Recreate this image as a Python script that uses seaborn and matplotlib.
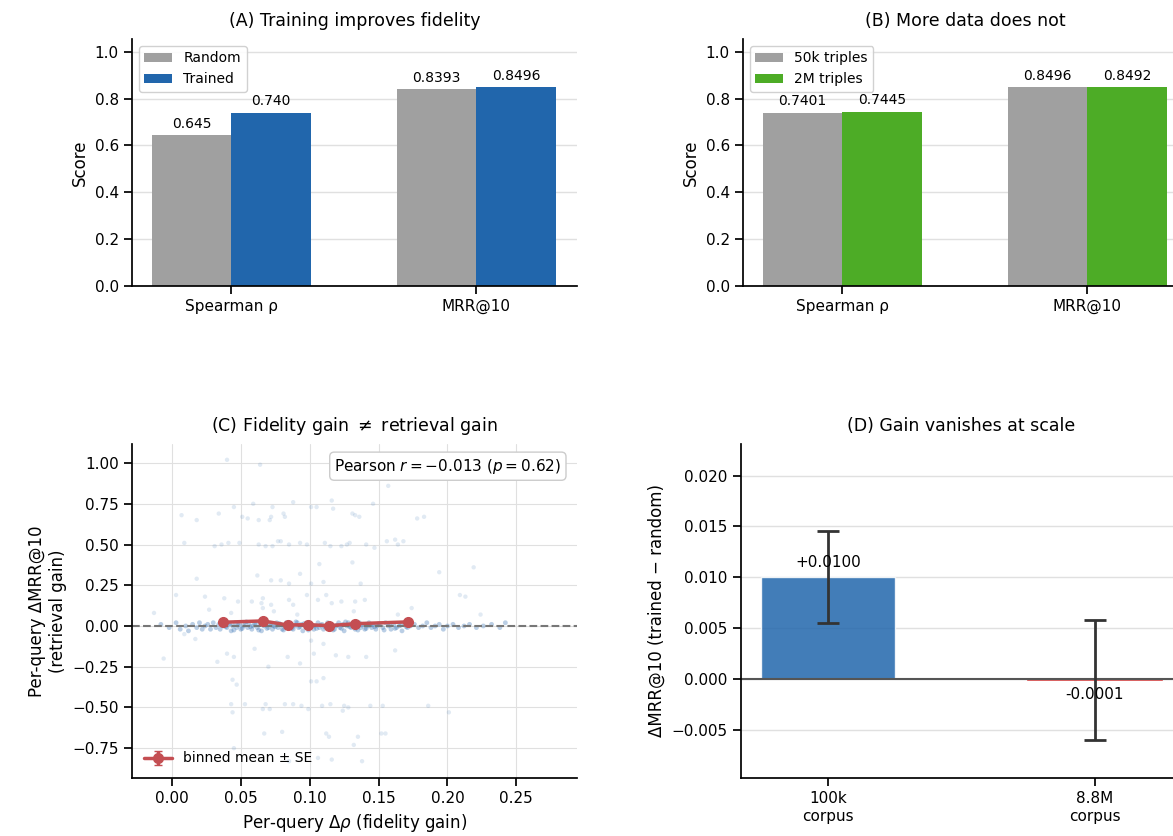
import matplotlib

matplotlib.use("Agg")

import matplotlib.pyplot as plt
import pandas as pd
import seaborn as sns
from matplotlib.ticker import MultipleLocator


# panel A / B : bar scores
METRICS = ["Spearman ρ", "MRR@10"]
RANDOM_SCORES = [0.645, 0.8393]
TRAINED_SCORES = [0.740, 0.8496]
LABELS_RANDOM = ["0.645", "0.8393"]
LABELS_TRAINED = ["0.740", "0.8496"]

SMALL_DATA_SCORES = [0.7401, 0.8496]
LARGE_DATA_SCORES = [0.7445, 0.8492]
LABELS_SMALL = ["0.7401", "0.8496"]
LABELS_LARGE = ["0.7445", "0.8492"]

# panel C : per-query scatter
SPREAD_X = [
    0.040, 0.064, 0.157,
    0.007, 0.018, 0.034, 0.045, 0.051, 0.055, 0.059, 0.063, 0.071, 0.072,
    0.073, 0.081, 0.082, 0.088, 0.101, 0.105, 0.116, 0.117, 0.131, 0.133,
    0.136, 0.146, 0.178, 0.183,
    0.009, 0.031, 0.036, 0.041, 0.049, 0.063, 0.068, 0.073, 0.077, 0.079,
    0.085, 0.093, 0.098, 0.111, 0.115, 0.123, 0.127, 0.129, 0.141, 0.147,
    0.156, 0.162, 0.164, 0.168,
    0.219, 0.194, 0.131, 0.107, 0.018, 0.062, 0.072, 0.079, 0.085, 0.101,
    0.110, 0.137, 0.093, 0.003, 0.024, 0.038, 0.048, 0.058, 0.065, 0.066,
    0.066, 0.072, 0.085, 0.088, 0.098, 0.106, 0.112, 0.116, 0.123, 0.133,
    0.140, 0.209, 0.213, 0.224, 0.174, 0.164, -0.013, 0.027, 0.043, 0.074,
    0.091, 0.132,
    -0.006, 0.009, 0.017, 0.033, 0.040, 0.045, 0.060, 0.070, 0.084, 0.093,
    0.101, 0.103, 0.110, 0.119, 0.128, 0.141, 0.162, 0.044, 0.047, 0.101,
    0.105, 0.110,
    0.043, 0.053, 0.066, 0.068, 0.071, 0.082, 0.088, 0.094, 0.099, 0.109,
    0.115, 0.124, 0.125, 0.128, 0.144, 0.153, 0.186, 0.201, 0.044,
    0.067, 0.080, 0.112, 0.114, 0.132, 0.135, 0.152, 0.155, 0.045, 0.085,
    0.116, 0.138, 0.106,
]
SPREAD_Y = [
    1.02, 0.99, 0.86,
    0.68, 0.65, 0.69, 0.73, 0.67, 0.66, 0.75, 0.65, 0.65, 0.67,
    0.73, 0.69, 0.67, 0.76, 0.73, 0.73, 0.77, 0.72, 0.69, 0.68,
    0.67, 0.75, 0.66, 0.67,
    0.51, 0.49, 0.50, 0.51, 0.51, 0.50, 0.49, 0.49, 0.52, 0.52,
    0.50, 0.51, 0.50, 0.51, 0.49, 0.49, 0.50, 0.51, 0.50, 0.48,
    0.52, 0.53, 0.50, 0.52,
    0.36, 0.33, 0.39, 0.38, 0.29, 0.31, 0.28, 0.28, 0.26, 0.26,
    0.27, 0.26, 0.32, 0.19, 0.18, 0.17, 0.15, 0.15, 0.14, 0.17,
    0.11, 0.13, 0.16, 0.13, 0.19, 0.16, 0.19, 0.14, 0.15, 0.15,
    0.16, 0.19, 0.18, 0.07, 0.11, 0.07, 0.08, 0.10, 0.08, 0.09,
    0.07, 0.09,
    -0.20, -0.05, -0.08, -0.22, -0.17, -0.19, -0.14, -0.25, -0.19, -0.23,
    -0.09, -0.17, -0.11, -0.18, -0.19, -0.19, -0.15, -0.33, -0.36, -0.34,
    -0.34, -0.32,
    -0.48, -0.48, -0.51, -0.48, -0.51, -0.48, -0.48, -0.49, -0.51, -0.49,
    -0.48, -0.52, -0.49, -0.50, -0.49, -0.49, -0.49, -0.53, -0.53,
    -0.66, -0.65, -0.66, -0.68, -0.73, -0.68, -0.66, -0.66, -0.75, -0.83,
    -0.82, -0.83, -0.81,
]
BAND_X = [
    -0.008, -0.002, 0.003, 0.006, 0.010, 0.012, 0.015, 0.018, 0.020, 0.022,
    0.024, 0.026, 0.028, 0.030, 0.032, 0.034, 0.035, 0.037, 0.038, 0.040,
    0.041, 0.043, 0.044, 0.046, 0.047, 0.049, 0.050, 0.052, 0.053, 0.055,
    0.056, 0.058, 0.059, 0.061, 0.062, 0.064, 0.065, 0.067, 0.068, 0.070,
    0.071, 0.073, 0.074, 0.076, 0.077, 0.079, 0.080, 0.082, 0.083, 0.085,
    0.086, 0.088, 0.089, 0.091, 0.092, 0.094, 0.095, 0.097, 0.098, 0.100,
    0.101, 0.103, 0.104, 0.106, 0.107, 0.109, 0.110, 0.112, 0.113, 0.115,
    0.116, 0.118, 0.119, 0.121, 0.122, 0.124, 0.125, 0.127, 0.128, 0.130,
    0.131, 0.133, 0.134, 0.136, 0.137, 0.139, 0.140, 0.142, 0.143, 0.145,
    0.146, 0.148, 0.149, 0.151, 0.153, 0.155, 0.157, 0.159, 0.161, 0.163,
    0.165, 0.167, 0.169, 0.171, 0.173, 0.176, 0.179, 0.182, 0.185, 0.188,
    0.191, 0.194, 0.197, 0.200, 0.204, 0.208, 0.212, 0.216, 0.221, 0.226,
    0.232, 0.238, 0.242,
    0.039, 0.042, 0.045, 0.048, 0.051, 0.054, 0.057, 0.060, 0.063, 0.066,
    0.069, 0.072, 0.075, 0.078, 0.081, 0.084, 0.087, 0.090, 0.093, 0.096,
    0.099, 0.102, 0.105, 0.108, 0.111, 0.114, 0.117, 0.120, 0.123, 0.126,
    0.129, 0.132, 0.135, 0.138, 0.141, 0.144, 0.147, 0.150, 0.154, 0.158,
    0.162, 0.166, 0.170,
]
BAND_Y = [
    0.01, -0.01, 0.02, -0.02, 0.00, -0.03, 0.01, -0.01, 0.02, -0.02,
    0.00, 0.01, -0.02, 0.02, -0.01, 0.01, -0.02, 0.00, 0.02, -0.01,
    0.01, -0.03, 0.00, 0.02, -0.01, 0.01, -0.02, 0.00, 0.02, -0.01,
    0.01, -0.02, 0.00, 0.02, -0.01, 0.01, -0.03, 0.00, 0.02, -0.01,
    0.01, -0.02, 0.00, 0.02, -0.01, 0.01, -0.02, 0.00, 0.02, -0.01,
    0.01, -0.02, 0.00, 0.02, -0.01, 0.01, -0.03, 0.00, 0.02, -0.01,
    0.01, -0.02, 0.00, 0.02, -0.01, 0.01, -0.02, 0.00, 0.02, -0.01,
    0.01, -0.02, 0.00, 0.02, -0.01, 0.01, -0.03, 0.00, 0.02, -0.01,
    0.01, -0.02, 0.00, 0.02, -0.01, 0.01, -0.02, 0.00, 0.02, -0.01,
    0.01, -0.02, 0.00, 0.01, -0.01, 0.02, 0.00, -0.02, 0.01, -0.01,
    0.00, -0.03, 0.01, -0.01, 0.00, 0.01, -0.01, 0.00, 0.02, -0.01,
    0.00, 0.01, -0.02, 0.00, 0.01, -0.01, 0.00, 0.01, -0.01, 0.00,
    0.01, -0.01, 0.02,
    -0.005, 0.015, -0.025, 0.005, -0.015, 0.025, -0.005, 0.015, -0.025, 0.005,
    -0.015, 0.005, -0.005, 0.015, -0.025, 0.005, -0.015, 0.025, -0.005, 0.015,
    -0.025, 0.005, -0.015, 0.005, -0.005, 0.015, -0.025, 0.005, -0.015, 0.025,
    -0.005, 0.015, -0.025, 0.005, -0.015, 0.005, -0.005, 0.015, -0.025, 0.005,
    -0.015, 0.005, -0.005,
]
BIN_X = [0.037, 0.066, 0.084, 0.099, 0.114, 0.133, 0.171]
BIN_MEAN = [0.023, 0.031, 0.006, 0.008, 0.002, 0.014, 0.025]
BIN_SE = [0.010, 0.009, 0.007, 0.006, 0.007, 0.008, 0.011]
PEARSON_R = -0.013
PEARSON_P = 0.62

# panel D : gain per corpus size
CORPORA = ["100k\ncorpus", "8.8M\ncorpus"]
GAIN = [0.0100, -0.0001]
GAIN_ERR = [0.0045, 0.0059]

GRAY = "#a0a0a0"
BLUE = "#2166ac"
GREEN = "#4dac26"
RED = "#c44e52"
GRID = "#e0e0e0"


def plot_score_bars(ax, title, names, first, second, labels, colors):
    df = pd.DataFrame({
        "metric": METRICS * 2,
        "score": first + second,
        "model": [names[0]] * 2 + [names[1]] * 2,
    })
    sns.barplot(
        data=df, x="metric", y="score", hue="model",
        palette=colors, width=0.65, saturation=1, linewidth=0, ax=ax,
    )
    for cont, lab in zip(ax.containers, labels):
        ax.bar_label(cont, labels=lab, padding=3, fontsize=10)

    ax.set_xlim(-0.405, 1.41)
    ax.set_ylim(0, 1.055)
    ax.yaxis.set_major_locator(MultipleLocator(0.2))
    ax.grid(axis="y", color=GRID, linewidth=1)
    ax.set_axisbelow(True)
    ax.set_title(title, fontsize=12.5, pad=9)
    ax.set_xlabel("")
    ax.set_ylabel("Score", fontsize=12)
    ax.legend(loc="upper left", fontsize=10, frameon=True, fancybox=True,
              edgecolor="#cccccc", framealpha=0.9)
    sns.despine(ax=ax)


def plot_scatter(ax):
    sns.scatterplot(x=SPREAD_X, y=SPREAD_Y, s=10, color="#3a75b5", alpha=0.15,
                    edgecolor="none", ax=ax)
    sns.scatterplot(x=BAND_X, y=BAND_Y, s=12, color="#3a75b5", alpha=0.35,
                    edgecolor="none", ax=ax)
    ax.axhline(0, color="#777777", linestyle="--", linewidth=1.5, zorder=2)
    ax.errorbar(BIN_X, BIN_MEAN, yerr=BIN_SE, color=RED, marker="o",
                markersize=7, linewidth=2.5, capsize=3, zorder=4,
                label="binned mean ± SE")

    ax.text(0.965, 0.962,
            rf"Pearson $r = {PEARSON_R:.3f}$ ($p = {PEARSON_P:.2f}$)".replace("-", "−"),
            transform=ax.transAxes, ha="right", va="top", fontsize=11,
            bbox=dict(boxstyle="round,pad=0.3", facecolor="white",
                      edgecolor="#cccccc"))

    ax.set_xlim(-0.029, 0.294)
    ax.set_ylim(-0.933, 1.117)
    ax.xaxis.set_major_locator(MultipleLocator(0.05))
    ax.yaxis.set_major_locator(MultipleLocator(0.25))
    ax.grid(True, color=GRID, linewidth=0.8)
    ax.set_axisbelow(True)
    ax.set_title(r"(C) Fidelity gain $\neq$ retrieval gain", fontsize=12.5, pad=9)
    ax.set_xlabel(r"Per-query $\Delta\rho$ (fidelity gain)", fontsize=12)
    ax.set_ylabel("Per-query ΔMRR@10\n(retrieval gain)", fontsize=12)
    ax.legend(loc="lower left", fontsize=10, frameon=False)
    sns.despine(ax=ax)


def plot_gain(ax):
    sns.barplot(x=CORPORA, y=GAIN, hue=CORPORA, palette=[BLUE, "#d62728"],
                width=0.5, saturation=1, alpha=0.85, legend=False, ax=ax)
    for patch in ax.patches:
        # the tiny negative bar is only visible through its outline
        if abs(patch.get_height()) < 0.001:
            patch.set_edgecolor(patch.get_facecolor())
            patch.set_linewidth(1.2)
    ax.axhline(0, color="#555555", linewidth=1.5, zorder=1)
    ax.errorbar(range(len(GAIN)), GAIN, yerr=GAIN_ERR, fmt="none",
                ecolor="#333333", elinewidth=2, capsize=8, capthick=2, zorder=4)
    for i, v in enumerate(GAIN):
        off = 0.0007 if v >= 0 else -0.0007
        ax.text(i, v + off, f"{v:+.4f}", ha="center",
                va="bottom" if v >= 0 else "top", fontsize=11, zorder=5)

    ax.set_xlim(-0.326, 1.326)
    ax.set_ylim(-0.00975, 0.0231)
    ax.yaxis.set_major_locator(MultipleLocator(0.005))
    ax.grid(axis="y", color=GRID, linewidth=1)
    ax.set_axisbelow(True)
    ax.set_title("(D) Gain vanishes at scale", fontsize=12.5, pad=9)
    ax.set_xlabel("")
    ax.set_ylabel("ΔMRR@10 (trained − random)", fontsize=12)
    sns.despine(ax=ax)


def main():
    sns.set_theme(style="ticks", context="notebook")
    plt.rcParams["font.family"] = ["DejaVu Sans"]
    plt.rcParams["axes.unicode_minus"] = True
    for key in ("text.color", "axes.labelcolor", "xtick.color",
                "ytick.color", "axes.edgecolor"):
        plt.rcParams[key] = "black"

    fig = plt.figure(figsize=(11.73, 8.36), dpi=100)
    ax_a = fig.add_axes([0.1125, 0.658, 0.3794, 0.2955])
    ax_b = fig.add_axes([0.6334, 0.658, 0.3794, 0.2955])
    ax_c = fig.add_axes([0.1125, 0.0694, 0.3794, 0.3995])
    ax_d = fig.add_axes([0.6317, 0.0694, 0.376, 0.3995])

    plot_score_bars(ax_a, "(A) Training improves fidelity", ["Random", "Trained"],
                    RANDOM_SCORES, TRAINED_SCORES,
                    [LABELS_RANDOM, LABELS_TRAINED], [GRAY, BLUE])
    plot_score_bars(ax_b, "(B) More data does not", ["50k triples", "2M triples"],
                    SMALL_DATA_SCORES, LARGE_DATA_SCORES,
                    [LABELS_SMALL, LABELS_LARGE], [GRAY, GREEN])
    plot_scatter(ax_c)
    plot_gain(ax_d)

    for ax in (ax_a, ax_b, ax_c, ax_d):
        ax.tick_params(labelsize=11)

    fig.savefig("out.png", dpi=100)
    plt.close(fig)


if __name__ == "__main__":
    main()
